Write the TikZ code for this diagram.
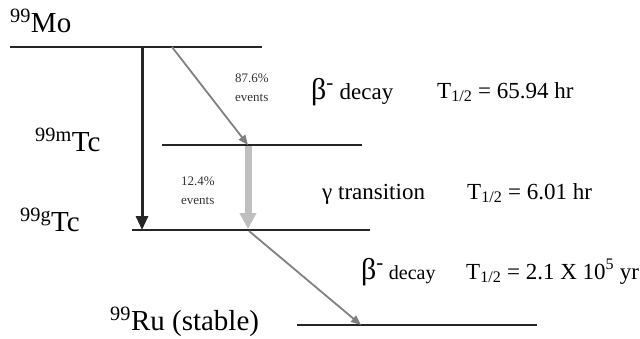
\documentclass[tikz,border=0pt]{standalone}
\usepackage{fontspec}
\setmainfont{Liberation Serif}
\usetikzlibrary{arrows.meta}
\begin{document}
\begin{tikzpicture}[x=1pt,y=-1pt,
  level/.style={line width=1.2pt,draw=black!85},
  big/.style={font=\fontsize{29}{32}\selectfont,anchor=base west,inner sep=0},
  mid/.style={font=\fontsize{23}{26}\selectfont,anchor=base west,inner sep=0},
  small/.style={font=\fontsize{13}{15}\selectfont,anchor=base west,inner sep=0,text=black!80},
  darkarrow/.style={line width=3pt,draw=black!85,-{Triangle[length=14pt,width=12pt]}},
  grayarrow/.style={line width=1.8pt,draw=black!50,-{Triangle[length=10pt,width=8pt]}},
  lightarrow/.style={line width=7pt,draw=black!25,-{Triangle[length=16pt,width=16pt]}}]
\useasboundingbox (0,0) rectangle (640,338);
% levels
\coordinate (mo1) at (10,47);   \coordinate (mo2) at (262,47);
\coordinate (tcm1) at (162,145); \coordinate (tcm2) at (362,145);
\coordinate (tcg1) at (132,230); \coordinate (tcg2) at (370,230);
\coordinate (ru1) at (297,325); \coordinate (ru2) at (537,325);
\draw[level] (mo1) -- (mo2);
\draw[level] (tcm1) -- (tcm2);
\draw[level] (tcg1) -- (tcg2);
\draw[level] (ru1) -- (ru2);
% labels
\node[big] (lmo) at (10,32) {\textsuperscript{99}Mo};
\node[big] (ltcm) at (35,151) {\textsuperscript{99m}Tc};
\node[big] (ltcg) at (20,231) {\textsuperscript{99g}Tc};
\node[big] (lru) at (110,330) {\textsuperscript{99}Ru (stable)};
% arrows
\coordinate (a1) at (142,47);  \coordinate (a2) at (142,230);
\draw[darkarrow] (a1) -- (a2);
\coordinate (b1) at (172,47);  \coordinate (b2) at (248,145);
\draw[grayarrow] (b1) -- (b2);
\coordinate (c1) at (248,146); \coordinate (c2) at (248,229);
\draw[lightarrow] (c1) -- (c2);
\coordinate (d1) at (249,231); \coordinate (d2) at (361,325);
\draw[grayarrow] (d1) -- (d2);
% small labels
\node[small] (p1) at (235,82) {87.6\%};
\node[small] (e1) at (235,101) {events};
\node[small] (p2) at (181,185) {12.4\%};
\node[small] (e2) at (181,204) {events};
% decay descriptions
\node[mid] (d1l) at (311,99) {\fontsize{30}{32}\selectfont β\textsuperscript{-}\fontsize{23}{26}\selectfont\ decay};
\node[mid] (t1) at (437,98) {T\textsubscript{1/2} = 65.94 hr};
\node[mid] (d2l) at (322,199) {γ transition};
\node[mid] (t2) at (467,199) {T\textsubscript{1/2} = 6.01 hr};
\node[mid] (d3l) at (361,279) {\fontsize{30}{32}\selectfont β\textsuperscript{-}\fontsize{20}{22}\selectfont\ decay};
\node[mid] (t3) at (466,279) {T\textsubscript{1/2} = 2.1 X 10\textsuperscript{5} yr};
\end{tikzpicture}
\end{document}
